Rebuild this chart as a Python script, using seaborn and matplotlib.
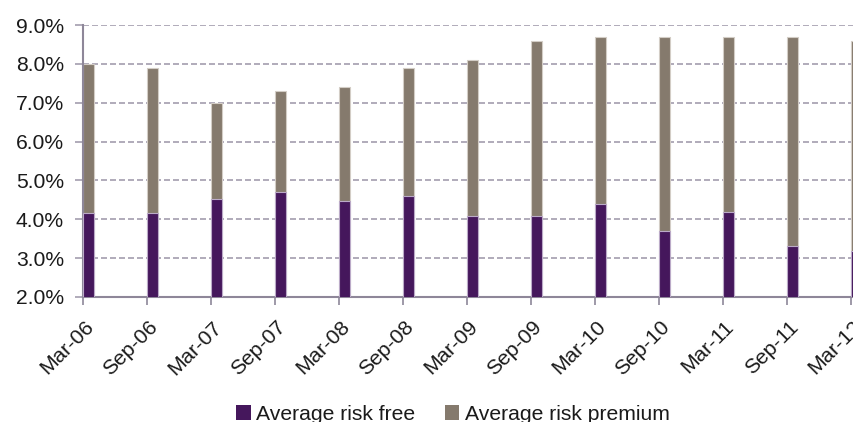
import matplotlib
matplotlib.use("Agg")
import numpy as np
import pandas as pd
import seaborn as sns
import matplotlib.pyplot as plt
from matplotlib.patches import Patch
from matplotlib.ticker import FuncFormatter, MultipleLocator
from matplotlib.transforms import ScaledTranslation

# Half-yearly observation dates
periods = ["Mar-06", "Sep-06", "Mar-07", "Sep-07", "Mar-08", "Sep-08", "Mar-09",
           "Sep-09", "Mar-10", "Sep-10", "Mar-11", "Sep-11", "Mar-12"]

# Components of the cost of equity, in percent
risk_free = [4.17, 4.17, 4.52, 4.69, 4.47, 4.59, 4.09, 4.09, 4.40, 3.70, 4.20, 3.30, 3.19]
risk_premium = [3.83, 3.73, 2.48, 2.61, 2.93, 3.31, 4.01, 4.51, 4.30, 5.00, 4.50, 5.40, 5.41]

series_names = ["Average risk free", "Average risk premium"]

PURPLE = "#45175C"
GREY = "#857A6D"
AXIS = "#8E8799"
GRID = "#A39DAE"
TEXT = "#1A1A1A"

sns.set_theme(style="white")
plt.rcParams["font.family"] = ["Liberation Sans", "DejaVu Sans"]
FS = 15.2

df = pd.DataFrame({"period": periods, "risk_free": risk_free, "risk_premium": risk_premium})
df["total"] = df["risk_free"] + df["risk_premium"]

fig = plt.figure(figsize=(8.54, 4.22), dpi=100)
ax = fig.add_axes([83 / 854, 1 - 297 / 422, 1 - 83 / 854, (297 - 25) / 422])

bw = 0.165
# Stacked bars: full height in grey, risk-free portion drawn over it
sns.barplot(data=df, x="period", y="total", color=GREY, width=bw, saturation=1,
            edgecolor="#D3CDC6", linewidth=0.8, ax=ax, zorder=2)
sns.barplot(data=df, x="period", y="risk_free", color=PURPLE, width=bw, saturation=1,
            edgecolor="#BBAAC8", linewidth=0.8, ax=ax, zorder=3)

# Ticks sit at the left edge of each bar
pos = np.arange(len(periods)) - bw / 2
ax.set_xticks(pos)
ax.set_xticklabels(periods, rotation=45, ha="right", va="center",
                   rotation_mode="anchor", fontsize=FS, color=TEXT)
ax.set_xlim(pos[0], pos[0] + 771 / 64)
ax.set_ylim(2, 9)
ax.yaxis.set_major_locator(MultipleLocator(1))
ax.yaxis.set_major_formatter(FuncFormatter(lambda v, _: f"{v:.1f}%"))
ax.set_xlabel("")
ax.set_ylabel("")

ax.grid(axis="y", linestyle=(0, (3.6, 1.8)), color=GRID, linewidth=1.2)
ax.grid(axis="x", visible=False)
ax.set_axisbelow(True)

for side in ["top", "right"]:
    ax.spines[side].set_visible(False)
for side in ["left", "bottom"]:
    ax.spines[side].set_color(AXIS)
    ax.spines[side].set_linewidth(1.5)

ax.tick_params(axis="x", direction="out", length=6, width=1.2, color=AXIS, pad=13.5,
               bottom=True)
ax.tick_params(axis="y", direction="out", length=6, width=1.2, color=GRID, pad=7.8,
               left=True, labelsize=FS, labelcolor=TEXT)

shift = ScaledTranslation(8 / 100, 0, fig.dpi_scale_trans)
for lab in ax.get_xticklabels():
    lab.set_transform(lab.get_transform() + shift)

handles = [Patch(facecolor=PURPLE, edgecolor="none"), Patch(facecolor=GREY, edgecolor="none")]
fig.legend(handles, series_names, loc="center", bbox_to_anchor=(0.530, 1 - 414 / 422),
           ncol=2, frameon=False, fontsize=FS, handlelength=0.7, handleheight=0.7,
           handletextpad=0.25, columnspacing=1.4, labelcolor=TEXT)

fig.savefig("out.png", dpi=100)
